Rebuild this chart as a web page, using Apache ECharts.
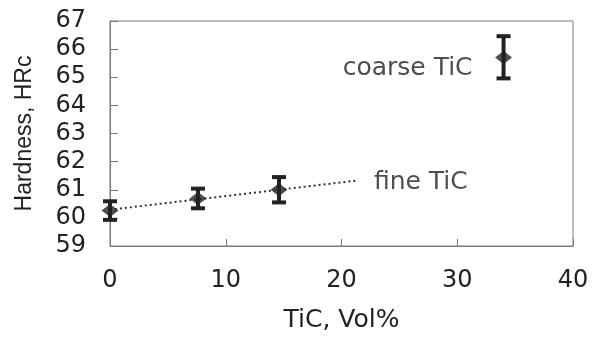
<!DOCTYPE html>
<html>
<head>
<meta charset="utf-8">
<script src="https://cdn.jsdelivr.net/npm/echarts@6/dist/echarts.min.js"></script>
<style>html,body{margin:0;padding:0;background:#fff}#c{width:595px;height:338px}</style>
</head>
<body>
<div id="c"></div>
<script>
// Data
const volPct = [0, 7.6, 14.6, 34];
const hardness = [60.26, 60.69, 61.0, 65.7];
const errLow = [59.93, 60.34, 60.55, 64.96];
const errHigh = [60.59, 61.04, 61.45, 66.46];
const trendX = [0, 21.2];
const trendY = [60.29, 61.32];
const labels = ['coarse TiC', 'fine TiC'];
const labelPos = [[20.1, 65.32], [22.8, 61.27]];

const FONT = 'DejaVu Sans';
const TXT = '#222';
const AX = '#7a7a7a';

const chart = echarts.init(document.getElementById('c'), null, {renderer: 'canvas'});
chart.setOption({
  animation: false,
  backgroundColor: '#fff',
  grid: {left: 110, right: 22, top: 21, bottom: 85, show: true, borderColor: AX, borderWidth: 1},
  xAxis: {
    type: 'value', min: 0, max: 40, interval: 10,
    name: 'TiC, Vol%', nameLocation: 'middle', nameGap: 62,
    nameTextStyle: {fontFamily: FONT, fontSize: 25, color: TXT},
    axisLine: {show: true, lineStyle: {color: AX, width: 1}},
    axisTick: {show: true, inside: true, length: 7, lineStyle: {color: AX}},
    axisLabel: {fontFamily: FONT, fontSize: 24, color: TXT, margin: 23},
    splitLine: {show: false}
  },
  yAxis: {
    type: 'value', min: 59, max: 67, interval: 1,
    name: 'Hardness, HRc', nameLocation: 'middle', nameGap: 74, nameRotate: 90,
    nameTextStyle: {fontFamily: 'Liberation Sans', fontSize: 23, color: TXT},
    axisLine: {show: true, lineStyle: {color: AX, width: 1}},
    axisTick: {show: true, inside: true, length: 8, lineStyle: {color: AX}},
    axisLabel: {fontFamily: FONT, fontSize: 24, color: TXT, margin: 24},
    splitLine: {show: false}
  },
  series: [
    {
      type: 'line',
      data: trendX.map((x, i) => [x, trendY[i]]),
      symbol: 'none',
      lineStyle: {color: '#333', width: 2, type: [2, 3]},
      z: 1
    },
    {
      type: 'custom',
      data: volPct.map((x, i) => [x, errLow[i], errHigh[i]]),
      renderItem: function (params, api) {
        const lo = api.coord([api.value(0), api.value(1)]);
        const hi = api.coord([api.value(0), api.value(2)]);
        const hw = 7;
        const st = {stroke: '#222', lineWidth: 4};
        return {
          type: 'group',
          children: [
            {type: 'line', shape: {x1: lo[0], y1: lo[1], x2: hi[0], y2: hi[1]}, style: st},
            {type: 'line', shape: {x1: lo[0] - hw, y1: lo[1], x2: lo[0] + hw, y2: lo[1]}, style: st},
            {type: 'line', shape: {x1: hi[0] - hw, y1: hi[1], x2: hi[0] + hw, y2: hi[1]}, style: st}
          ]
        };
      },
      z: 2
    },
    {
      type: 'scatter',
      data: volPct.map((x, i) => [x, hardness[i]]),
      symbol: 'diamond',
      symbolSize: [17, 13],
      itemStyle: {color: '#222'},
      z: 3
    },
    {
      type: 'scatter',
      data: labelPos.map((p, i) => ({value: p, name: labels[i]})),
      symbolSize: 0,
      label: {
        show: true, position: 'right', distance: 0,
        formatter: p => p.name,
        fontFamily: FONT, fontSize: 25, color: TXT
      },
      z: 4
    }
  ]
});
</script>
</body>
</html>
